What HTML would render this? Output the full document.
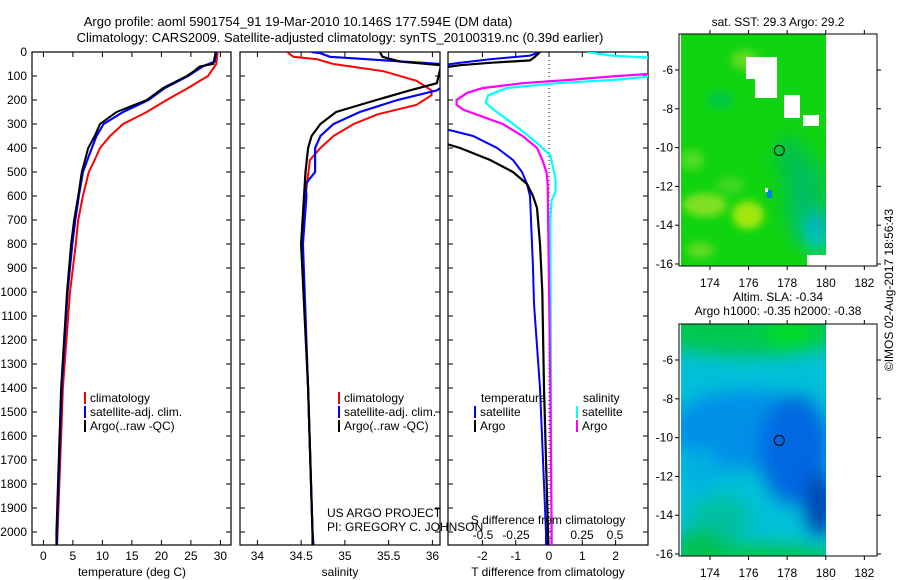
<!DOCTYPE html>
<html><head><meta charset="utf-8"><style>
html,body{margin:0;padding:0;background:#fff;}
svg{display:block;font-family:"Liberation Sans",sans-serif;}
</style></head><body>
<svg id="fig" width="900" height="580" viewBox="0 0 900 580" xmlns="http://www.w3.org/2000/svg">
<defs>
<clipPath id="c1"><rect x="32" y="52" width="199" height="493"/></clipPath>
<clipPath id="c2"><rect x="240" y="52" width="200" height="493"/></clipPath>
<clipPath id="c3"><rect x="448" y="52" width="200" height="493"/></clipPath>
<clipPath id="m1"><rect x="680" y="34" width="146" height="232"/></clipPath>
<clipPath id="m2"><rect x="680" y="324" width="146" height="232"/></clipPath>
<filter id="bl" x="-50%" y="-50%" width="200%" height="200%"><feGaussianBlur stdDeviation="9"/></filter>
<filter id="bl2" x="-50%" y="-50%" width="200%" height="200%"><feGaussianBlur stdDeviation="4"/></filter>
</defs>
<text x="298" y="26" font-size="13" text-anchor="middle">Argo profile: aoml 5901754_91 19-Mar-2010 10.146S 177.594E (DM data)</text>
<text x="340" y="42" font-size="13" text-anchor="middle">Climatology: CARS2009. Satellite-adjusted climatology: synTS_20100319.nc (0.39d earlier)</text>
<g id="plots"></g>
<g id="maps"></g>
<text transform="translate(893,290) rotate(-90)" font-size="12" text-anchor="middle">©IMOS 02-Aug-2017 18:56:43</text>
</svg>
<script>
// ---- data (depth in dbar) ----
const tDepthArgo=[0,50,60,80,100,150,200,250,300,350,400,500,600,700,800,1000,1400,2000,2054];
const tArgo=[29.2,28.8,26.5,25.5,24.3,20.3,17.5,12.4,9.6,8.7,7.6,6.5,5.9,5.2,4.7,4.0,3.0,2.2,2.2];
const tDepthSat=[0,40,60,100,150,200,250,300,350,400,500,600,700,800,1000,1400,2000,2054];
const tSat=[29.3,29.0,27.0,24.5,20.6,17.8,13.5,10.2,9.0,8.2,6.7,6.0,5.4,4.9,4.1,3.1,2.3,2.3];
const tDepthClim=[0,50,100,150,200,250,300,350,400,450,500,600,700,800,1000,1400,2000,2054];
const tClim=[29.5,29.3,27.9,24.5,20.9,17.5,13.5,11.3,9.6,8.7,7.7,6.7,5.9,5.5,4.5,3.3,2.4,2.3];

const sDepthClim=[0,20,30,50,80,120,160,180,220,260,300,350,400,450,600,800,1400,2000,2054];
const sClim=[34.34,34.41,34.68,34.87,35.44,35.82,35.99,35.99,35.82,35.37,35.1,34.87,34.72,34.6,34.55,34.51,34.58,34.63,34.64];
const sDepthSat=[0,5,20,30,50,100,160,200,250,300,350,400,500,550,600,800,1400,2000,2054];
const sSat=[34.62,34.72,34.83,35.25,36.1,36.3,36.05,35.6,35.17,34.87,34.72,34.66,34.66,34.55,34.56,34.52,34.58,34.63,34.64];
const sDepthArgo=[0,20,40,55,130,160,200,250,300,350,400,500,800,1400,2000,2054];
const sArgo=[35.4,35.43,35.63,36.1,36.05,35.74,35.36,34.9,34.72,34.62,34.58,34.55,34.5,34.58,34.63,34.63];

const dtDepthSat=[0,15,30,45,55,318,350,400,450,500,550,600,700,900,1050,1400,2000,2054];
const dtSat=[-0.27,-0.57,-1.77,-2.67,-3.2,-3.2,-2.28,-1.56,-1.08,-0.81,-0.66,-0.57,-0.54,-0.48,-0.45,-0.27,-0.09,-0.09];
const dtDepthArgo=[0,20,35,45,55,65,378,400,450,500,550,600,650,800,1000,1400,2000,2054];
const dtArgo=[-0.27,-0.42,-0.57,-1.77,-2.67,-3.2,-3.2,-2.67,-1.77,-1.08,-0.66,-0.48,-0.36,-0.27,-0.2,-0.15,-0.03,-0.03];
const dsDepthSat=[0,15,25,85,103,115,130,150,180,210,240,280,330,380,430,480,530,580,620,700,1400,2000,2054];
const dsSat=[0.29,0.48,0.8,0.8,0.74,0.52,0.06,-0.32,-0.46,-0.48,-0.42,-0.32,-0.2,-0.09,0.01,0.03,0.05,0.05,0.02,0.01,0.015,0.02,0.02];
const dsDepthArgo=[0,90,100,115,130,150,170,200,220,240,270,300,350,400,450,500,550,1400,2000,2054];
const dsArgo=[1.2,0.8,0.52,0.18,-0.2,-0.5,-0.62,-0.7,-0.7,-0.65,-0.5,-0.35,-0.2,-0.09,-0.05,-0.02,-0.01,0.01,0.02,0.02];

const depthTicks=[0,100,200,300,400,500,600,700,800,900,1000,1100,1200,1300,1400,1500,1600,1700,1800,1900,2000];
const tTicks=[0,5,10,15,20,25,30];
const sTicks=[34,34.5,35,35.5,36];
const sTickLabels=["34","34.5","35","35.5","36"];
const dtTicks=[-2,-1,0,1,2];
const dsTicks=[-0.5,-0.25,0,0.25,0.5];

// ---- axis functions ----
const yD=d=>52+d*0.24;
const xT=t=>43.4+t*5.9;
const xS=s=>257.4+(s-34)*87.5;
const xDT=v=>549+v*33.3;
const xDS=v=>549+v*132;

const NS="http://www.w3.org/2000/svg";
const plots=document.getElementById('plots');
function mk(tag,attrs,parent,text){const e=document.createElementNS(NS,tag);for(const k in attrs)e.setAttribute(k,attrs[k]);if(text!==undefined)e.textContent=text;(parent||plots).appendChild(e);return e;}
function line(depths,vals,xf,color,w,clip,name){
  const pts=depths.map((d,i)=>xf(vals[i]).toFixed(1)+","+yD(d).toFixed(1)).join(" ");
  const p=mk('polyline',{points:pts,fill:'none',stroke:color,'stroke-width':w,'clip-path':'url(#'+clip+')'});
  
  
}
function frame(x,w,name){const r=mk('rect',{x:x,y:52,width:w,height:493,fill:'none',stroke:'#000','stroke-width':1.2});
  
  
  depthTicks.forEach(d=>{mk('line',{x1:x,x2:x+5,y1:yD(d),y2:yD(d),stroke:'#000'});mk('line',{x1:x+w,x2:x+w-5,y1:yD(d),y2:yD(d),stroke:'#000'});});
}
function xticks(ticks,labels,xf,ylab,top){
  ticks.forEach((t,i)=>{const x=xf(t);
    mk('line',{x1:x,x2:x,y1:545,y2:540,stroke:'#000'});
    if(top)mk('line',{x1:x,x2:x,y1:52,y2:57,stroke:'#000'});
    const tx=mk('text',{x:x,y:ylab,'font-size':12,'text-anchor':'middle'},plots,labels[i]);
    
    
  });
}
frame(32,199,'temperature-panel-frame');
frame(240,200,'salinity-panel-frame');
frame(448,200,'difference-panel-frame');
depthTicks.forEach(d=>{const t=mk('text',{x:27,y:yD(d)+4,'font-size':12,'text-anchor':'end'},plots,String(d));
  
  });
xticks(tTicks,tTicks.map(String),xT,560,true);
xticks(sTicks,sTickLabels,xS,560,true);
xticks(dtTicks,dtTicks.map(String),xDT,560,true);
dsTicks.forEach(t=>{const tx=mk('text',{x:xDS(t),y:539,'font-size':12,'text-anchor':'middle'},plots,String(t));
  
  });
mk('line',{x1:549,x2:549,y1:52,y2:545,stroke:'#000','stroke-dasharray':'1,3','stroke-width':1});
line(tDepthClim,tClim,xT,'#f00',2,'c1','temperature-climatology-line');
line(tDepthSat,tSat,xT,'#00f',2.2,'c1','temperature-satellite-line');
line(tDepthArgo,tArgo,xT,'#000',2,'c1','temperature-argo-line');
line(sDepthClim,sClim,xS,'#f00',2,'c2','salinity-climatology-line');
line(sDepthSat,sSat,xS,'#00f',2.2,'c2','salinity-satellite-line');
line(sDepthArgo,sArgo,xS,'#000',2.2,'c2','salinity-argo-line');
line(dsDepthSat,dsSat,xDS,'#0ff',2.2,'c3','s-diff-satellite-line');
line(dsDepthArgo,dsArgo,xDS,'#f0f',2.2,'c3','s-diff-argo-line');
line(dtDepthSat,dtSat,xDT,'#00f',2,'c3','t-diff-satellite-line');
line(dtDepthArgo,dtArgo,xDT,'#000',2.2,'c3','t-diff-argo-line');
[['temperature (deg C)',132,'temperature-axis-title'],['salinity',340,'salinity-axis-title'],['T difference from climatology',548,'t-diff-axis-title']].forEach(a=>{
  const t=mk('text',{x:a[1],y:576,'font-size':12,'text-anchor':'middle'},plots,a[0]);
  
  });
const sdt=mk('text',{x:548,y:524,'font-size':12,'text-anchor':'middle'},plots,'S difference from climatology');


const c1=mk('text',{x:327,y:517,'font-size':12},plots,'US ARGO PROJECT');


const c2=mk('text',{x:327,y:531,'font-size':12},plots,'PI: GREGORY C. JOHNSON');


function legend(x,y,color,label){
  mk('rect',{x:x,y:y-10,width:2,height:12,fill:color});
  const t=mk('text',{x:x+6,y:y,'font-size':12},plots,label);
  
  
}
[[84,'#f00','climatology'],[84,'#00f','satellite-adj. clim.'],[84,'#000','Argo(..raw -QC)']].forEach((l,i)=>legend(l[0],402+i*14,l[1],l[2]));
[[338,'#f00','climatology'],[338,'#00f','satellite-adj. clim.'],[338,'#000','Argo(..raw -QC)']].forEach((l,i)=>legend(l[0],402+i*14,l[1],l[2]));
{const t=mk('text',{x:481,y:402,'font-size':12},plots,'temperature');
 const s=mk('text',{x:583,y:402,'font-size':12},plots,'salinity');}
legend(474,416,'#00f','satellite');legend(474,430,'#000','Argo');
legend(576,416,'#0ff','satellite');legend(576,430,'#f0f','Argo');

// ---- maps ----
const maps=document.getElementById('maps');
const lonTicks=[174,176,178,180,182];
const latTicks=[-6,-8,-10,-12,-14,-16];
function mapAxes(y0,name){
  const xL=x=>681+(x-172.5)*19.3;
  const yL=l=>y0+36+(-6-l)*19.4;
  const r=mk('rect',{x:679,y:y0,width:198,height:232,fill:'none',stroke:'#000','stroke-width':1},maps);
  
  
  lonTicks.forEach(l=>{const x=xL(l);
    mk('line',{x1:x,x2:x,y1:y0,y2:y0-4,stroke:'#000'},maps);
    mk('line',{x1:x,x2:x,y1:y0+232,y2:y0+236,stroke:'#000'},maps);
    const t=mk('text',{x:x,y:y0+253,'font-size':12,'text-anchor':'middle'},maps,String(l));
    
    });
  latTicks.forEach(l=>{const y=yL(l);
    mk('line',{x1:679,x2:675,y1:y,y2:y,stroke:'#000'},maps);
    mk('line',{x1:877,x2:881,y1:y,y2:y,stroke:'#000'},maps);
    const t=mk('text',{x:673,y:y+4,'font-size':12,'text-anchor':'end'},maps,String(l));
    
    });
  const c=mk('circle',{cx:xL(177.594),cy:yL(-10.146),r:5,fill:'none',stroke:'#000','stroke-width':1},maps);
  
  
}
const g1=mk('g',{'clip-path':'url(#m1)'},maps);


mk('rect',{x:680,y:34,width:146,height:232,fill:'#10d410'},g1);
const gb=mk('g',{filter:'url(#bl2)'},g1);
[[705,205,22,12,'#80e020'],[748,215,16,14,'#a0e810'],[692,160,12,10,'#50dc20'],[720,100,14,10,'#00c840'],[745,60,14,10,'#60dc20'],[700,250,14,8,'#60dc20'],[730,185,14,8,'#40d820']].forEach(e=>mk('ellipse',{cx:e[0],cy:e[1],rx:e[2],ry:e[3],fill:e[4]},gb));
const gc=mk('g',{filter:'url(#bl)'},g1);
[[805,200,20,45,'#00c060'],[818,235,10,20,'#00c8e0'],[822,225,7,10,'#0090f0'],[790,160,14,25,'#00c050']].forEach(e=>mk('ellipse',{cx:e[0],cy:e[1],rx:e[2],ry:e[3],fill:e[4]},gc));
mk('rect',{x:767,y:190,width:5,height:8,fill:'#0080f0'},g1);
[[746,57,31,22],[755,75,22,23],[784,95,16,23],[803,115,16,11],[765,188,3,4],[807,255,19,11]].forEach(r=>mk('rect',{x:r[0],y:r[1],width:r[2],height:r[3],fill:'#fff'},g1));
mk('rect',{x:679,y:34,width:2,height:232,fill:'#fff'},maps);
const tt1=mk('text',{x:778,y:26,'font-size':12,'text-anchor':'middle'},maps,'sat. SST: 29.3 Argo: 29.2');


mapAxes(34,'sst-map-frame');
const g2=mk('g',{'clip-path':'url(#m2)'},maps);


mk('rect',{x:680,y:324,width:146,height:232,fill:'#00c0d8'},g2);
const gs=mk('g',{filter:'url(#bl)'},g2);
[[750,328,110,28,'#00c850'],[790,333,25,16,'#00dc20'],[745,430,75,40,'#0090e8'],[795,450,35,55,'#0068e0'],[820,505,14,32,'#0040b0'],[720,520,30,25,'#00c0a0'],[700,470,18,22,'#00b0e0'],[750,558,90,14,'#00c850'],[700,545,25,15,'#00c050']].forEach(e=>mk('ellipse',{cx:e[0],cy:e[1],rx:e[2],ry:e[3],fill:e[4]},gs));
mk('rect',{x:679,y:324,width:2,height:232,fill:'#fff'},maps);
const tt2=mk('text',{x:778,y:301,'font-size':12,'text-anchor':'middle'},maps,'Altim. SLA: -0.34');


const tt3=mk('text',{x:778,y:315,'font-size':12,'text-anchor':'middle'},maps,'Argo h1000: -0.35 h2000: -0.38');


mapAxes(324,'sla-map-frame');
</script>
</body></html>
